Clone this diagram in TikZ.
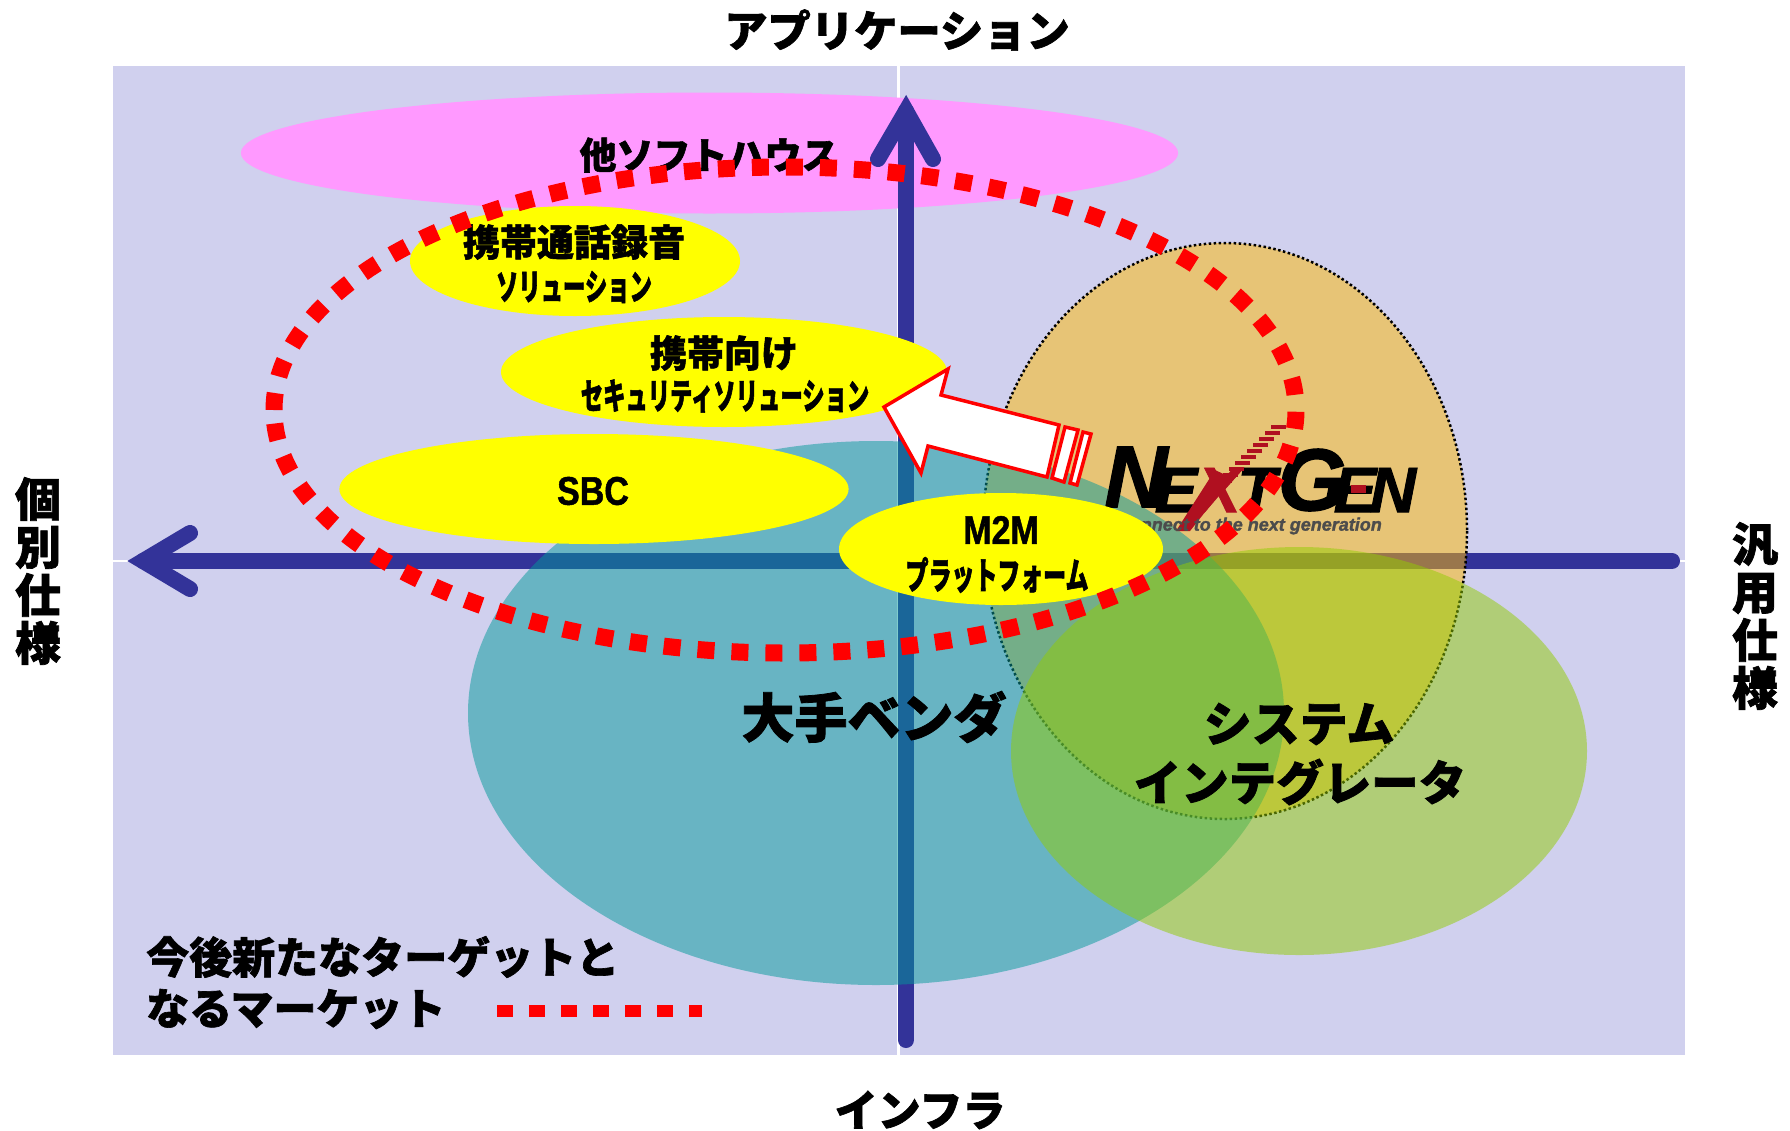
\documentclass[tikz,border=0pt]{standalone}
\usepackage{fontspec}
\newfontfamily\jp{Noto Sans CJK JP}[BoldFeatures={FakeBold=1.5}]
\newfontfamily\jpnarrow{Noto Sans CJK JP}[FakeStretch=0.62,BoldFeatures={FakeBold=1.5}]
\newfontfamily\latinnarrow{Liberation Sans}[FakeStretch=0.85,BoldFeatures={FakeBold=1.2}]
\newfontfamily\logofont{Liberation Sans}[BoldItalicFeatures={FakeBold=1.5}]
\definecolor{paneblue}{HTML}{D0D0EE}
\definecolor{axisblue}{HTML}{333399}
\definecolor{softpink}{HTML}{FF99FF}
\definecolor{vendorteal}{HTML}{029A9A}
\definecolor{nextorange}{HTML}{FFB900}
\definecolor{sigreen}{HTML}{92CC02}
\definecolor{logored}{HTML}{B01020}
\definecolor{fieldyellow}{HTML}{FFFF00}
\definecolor{targetred}{HTML}{FF0000}
\tikzset{
	axisline/.style={draw=axisblue,line width=16,line cap=round,line join=round},
	axishead/.style={draw=axisblue,line width=16,line cap=round,line join=miter},
	targetline/.style={draw=targetred,line width=17,dash pattern=on 17 off 17},
	jplabel/.style={font=\jp\bfseries\fontsize{#1}{#1}\selectfont,inner sep=0},
	narrowlabel/.style={font=\jpnarrow\bfseries\fontsize{#1}{#1}\selectfont,inner sep=0},
	sidelabel/.style={font=\jp\bfseries\fontsize{46}{48}\selectfont,inner sep=0,align=center},
	latinlabel/.style={font=\latinnarrow\bfseries\fontsize{#1}{#1}\selectfont,inner sep=0},
	logoletter/.style={font=\logofont\bfseries\itshape\fontsize{#1}{#1}\selectfont,inner sep=0},
	arrowpart/.style={draw=targetred,fill=white,line width=3.5,line join=miter}
}
\begin{document}
\begin{tikzpicture}[x=1pt,y=-1pt]
	\useasboundingbox (0,0) rectangle (1790,1130);
	\fill[paneblue] (113,66) rectangle (1685,1055);
	\draw[white,line width=2.5] (898.5,66) -- (898.5,1055);
	\draw[white,line width=2.5] (113,561) -- (1685,561);

	\fill[softpink] (709.5,153) ellipse (468.6 and 60.5);

	% axes
	\coordinate (infra) at (906,1040);
	\coordinate (appl) at (906,111);
	\coordinate (general) at (1672,561);
	\coordinate (custom) at (143,561);
	\draw[axisline] (infra) -- (appl);
	\draw[axishead] (878,159) -- (appl) -- (933,159);
	\draw[axisline] (general) -- (custom);
	\draw[axishead] (190,533) -- (custom) -- (190,589);

	\fill[nextorange,fill opacity=.5] (1225,531) ellipse (242 and 288);
	\draw[black,line width=2.5,dash pattern=on 2.5 off 2.5] (1225,531) ellipse (242 and 288);
	\fill[vendorteal,fill opacity=.5] (876,713) ellipse (408 and 272);
	\fill[sigreen,fill opacity=.5] (1299,751) ellipse (288 and 204);

	% logo
	\node[logoletter=88] (logoN) at (1136,477) {N};
	\node[logoletter=64] (logoE) at (1176,490) {E};
	\fill[logored] (1176,531) -- (1190,531) -- (1232,478) -- (1215,470) -- cycle;
	\node[logoletter=64,text=logored] (logoX) at (1219,490) {X};
	\node[logoletter=64] (logoT) at (1257,490) {T};
	\node[logoletter=88] (logoG) at (1312,480) {G};
	\node[logoletter=64] (logoEb) at (1355,490) {E};
	\fill[logored] (1351,485) rectangle (1366,493);
	\node[logoletter=64] (logoNb) at (1393,490) {N};
	\foreach \i in {0,...,9}
		\draw[logored,line width=4] ({1271-6*\i},{427+6*\i}) -- ++(15,0);
	\node[logoletter=18,text=black!70,anchor=east] (logosub) at (1382,526) {connect to the next generation};

	% yellow fields
	\fill[fieldyellow] (575,261) ellipse (165 and 55);
	\fill[fieldyellow] (724,372) ellipse (223 and 55);
	\fill[fieldyellow] (594,489) ellipse (254.6 and 55);
	\fill[fieldyellow] (1001,549) ellipse (162 and 56);

	% arrow from the logo
	\draw[arrowpart] (884,407) -- (948,369) -- (941,395) -- (1059,425) -- (1047,477) -- (928,446) -- (921,473) -- cycle;
	\draw[arrowpart] (1065,427) -- (1078,430) -- (1064,482) -- (1052,478) -- cycle;
	\draw[arrowpart] (1083,432) -- (1091,434) -- (1077,485) -- (1070,483) -- cycle;

	\node[jplabel=43.3] (top) at (897,30) {アプリケーション};
	\node[jplabel=43] (bottom) at (920,1110) {インフラ};
	\node[sidelabel] (left) at (38,571) {個\\別\\仕\\様};
	\node[sidelabel] (right) at (1755,616) {汎\\用\\仕\\様};

	\node[jplabel=37] (soft) at (709,155) {他ソフトハウス};
	\node[jplabel=37] (rec) at (574,242) {携帯通話録音};
	\node[narrowlabel=36] (recsol) at (574,287) {ソリューション};
	\node[jplabel=37] (mob) at (724,353) {携帯向け};
	\node[narrowlabel=36] (mobsol) at (725,396) {セキュリティソリューション};
	\node[latinlabel=40] (sbc) at (593,491) {SBC};
	\node[latinlabel=40] (mtom) at (1001,530) {M2M};
	\node[narrowlabel=37] (plat) at (997,575) {プラットフォーム};
	\node[jplabel=53] (vendor) at (874,717) {大手ベンダ};
	\node[jplabel=48] (sys) at (1299,724) {システム};
	\node[jplabel=47.5] (integ) at (1300,782) {インテグレータ};

	% new target market
	\draw[targetline,rotate around={180:(785,410)}] (785,410) ellipse (511 and 243);

	\node[jplabel=43,anchor=west] (legendA) at (146,957) {今後新たなターゲットと};
	\node[jplabel=43,anchor=west] (legendB) at (146,1009) {なるマーケット};
	\coordinate (legendfrom) at (497,1011);
	\coordinate (legendto) at (702,1011);
	\draw[targetline,line width=12,dash pattern=on 16 off 16] (legendfrom) -- (legendto);
\end{tikzpicture}
\end{document}
